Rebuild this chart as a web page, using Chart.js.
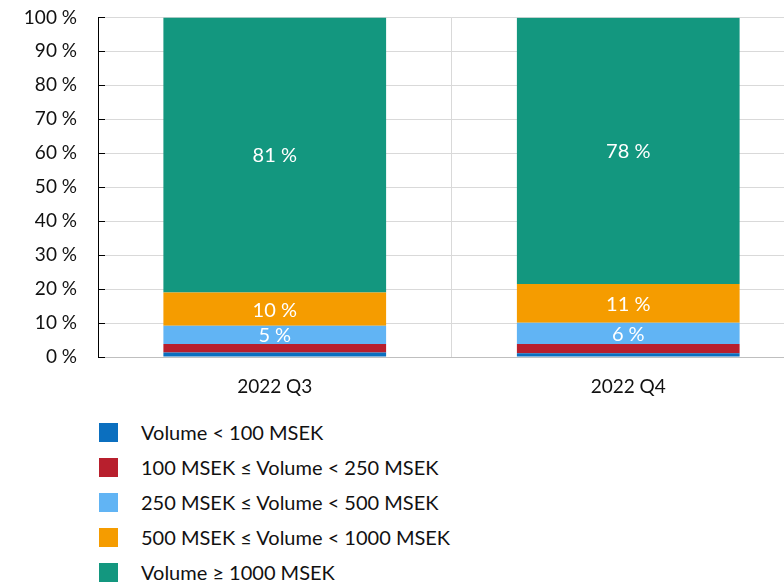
<!DOCTYPE html>
<html>
<head>
<meta charset="utf-8">
<script src="https://cdn.jsdelivr.net/npm/chart.js@4.4.0/dist/chart.umd.min.js"></script>
<style>
  html, body { margin: 0; padding: 0; background: #fff; overflow: hidden; }
  body { width: 784px; height: 582px; position: relative; font-family: Lato, "Open Sans", sans-serif; }
  #wrap { position: absolute; left: 0; top: -15px; width: 805px; height: 415px; }
  #legend { position: absolute; left: 99px; top: 423px; margin: 0; padding: 0; list-style: none; }
  #legend li { height: 35px; display: flex; align-items: flex-start; font-size: 20px; color: #111; }
  #legend .box { width: 19px; height: 19px; margin-right: 23px; flex: none; }
  #legend .txt { line-height: 19px; }
</style>
</head>
<body>
<div id="wrap"><canvas id="chart"></canvas></div>
<ul id="legend"></ul>
<script>
/* ---- data ---- */
const categories = ["2022 Q3", "2022 Q4"];
const seriesNames = [
  "Volume < 100 MSEK",
  "100 MSEK \u2264 Volume < 250 MSEK",
  "250 MSEK \u2264 Volume < 500 MSEK",
  "500 MSEK \u2264 Volume < 1000 MSEK",
  "Volume \u2265 1000 MSEK"
];
const under100 = [1.3, 1.1];
const from100to250 = [2.5, 2.7];
const from250to500 = [5.4, 6.3];
const from500to1000 = [9.8, 11.4];
const over1000 = [81.0, 78.4];
const yTicks = [0, 10, 20, 30, 40, 50, 60, 70, 80, 90, 100];

const colors = ["#0B6FBF", "#B81F2D", "#61B4F4", "#F59C00", "#13977F"];
const values = [under100, from100to250, from250to500, from500to1000, over1000];
const FONT = "Lato, 'Open Sans', sans-serif";

/* etiketter i staplarna (bara för stora segment) */
const barLabels = {
  id: "barLabels",
  afterDatasetsDraw(chart) {
    const ctx = chart.ctx;
    ctx.save();
    ctx.fillStyle = "#fff";
    ctx.font = "20px " + FONT;
    ctx.textAlign = "center";
    ctx.textBaseline = "middle";
    chart.data.datasets.forEach((ds, i) => {
      chart.getDatasetMeta(i).data.forEach((bar, j) => {
        const v = ds.data[j];
        if (v < 5) return;
        const p = bar.getProps(["x", "y", "base"], true);
        ctx.fillText(Math.round(v) + " %", p.x, (p.y + p.base) / 2 + 1);
      });
    });
    ctx.restore();
  }
};

/* små tickmarkeringar innanför y-axeln */
const innerTicks = {
  id: "innerTicks",
  afterDraw(chart) {
    const y = chart.scales.y;
    const ctx = chart.ctx;
    ctx.save();
    ctx.strokeStyle = "#000";
    ctx.lineWidth = 1;
    ctx.beginPath();
    yTicks.forEach(t => {
      const py = Math.round(y.getPixelForValue(t)) + 0.5;
      ctx.moveTo(y.right, py);
      ctx.lineTo(y.right + 7, py);
    });
    ctx.moveTo(y.right + 0.5, y.getPixelForValue(100));
    ctx.lineTo(y.right + 0.5, y.getPixelForValue(0));
    ctx.stroke();
    ctx.restore();
  }
};

new Chart(document.getElementById("chart"), {
  type: "bar",
  data: {
    labels: categories,
    datasets: seriesNames.map((name, i) => ({
      label: name,
      data: values[i],
      backgroundColor: colors[i],
      borderWidth: 0,
      categoryPercentage: 1,
      barPercentage: 0.63
    }))
  },
  options: {
    responsive: true,
    maintainAspectRatio: false,
    animation: false,
    layout: { padding: { top: 2, right: 0, left: 0, bottom: 0 } },
    plugins: { legend: { display: false }, tooltip: { enabled: false } },
    scales: {
      x: {
        stacked: true,
        grid: { color: "#d9d9d9", drawTicks: false, offset: true },
        border: { color: "#bfbfbf" },
        ticks: { color: "#111", padding: 18, font: { family: FONT, size: 19 } },
        afterFit(scale) { scale.height = 43; }
      },
      y: {
        stacked: true,
        min: 0,
        max: 100,
        afterBuildTicks(scale) { scale.ticks = yTicks.map(v => ({ value: v })); },
        grid: { color: "#d9d9d9", drawTicks: false },
        border: { display: false },
        ticks: {
          color: "#111",
          padding: 21,
          font: { family: FONT, size: 19 },
          callback: v => v + " %"
        },
        afterFit(scale) { scale.width = 98; }
      }
    }
  },
  plugins: [barLabels, innerTicks]
});

/* legend som lista under diagrammet */
const legend = document.getElementById("legend");
seriesNames.forEach((name, i) => {
  const li = document.createElement("li");
  li.innerHTML = '<span class="box" style="background:' + colors[i] + '"></span><span class="txt"></span>';
  li.querySelector(".txt").textContent = name;
  legend.appendChild(li);
});
</script>
</body>
</html>
